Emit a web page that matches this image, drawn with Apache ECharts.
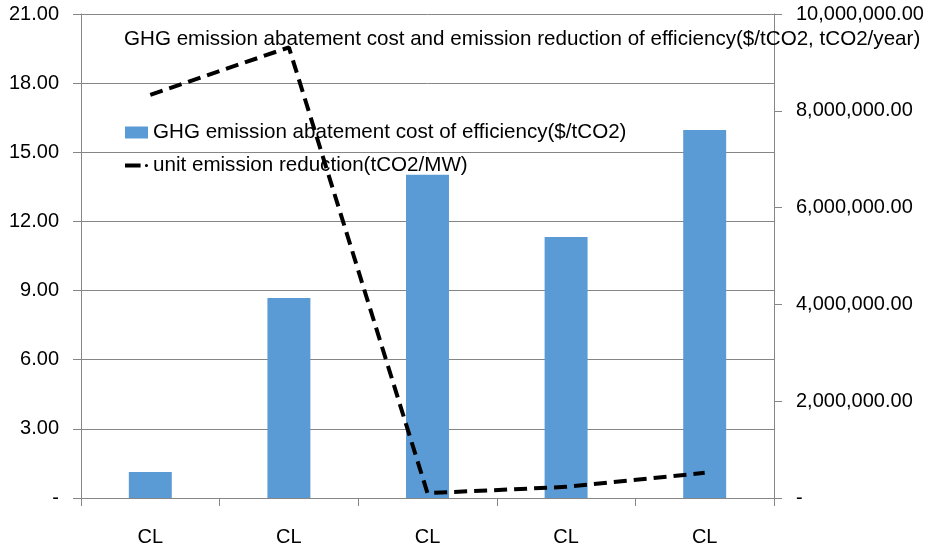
<!DOCTYPE html>
<html><head><meta charset="utf-8">
<script src="https://cdn.jsdelivr.net/npm/echarts@6/dist/echarts.min.js"></script>
<style>html,body{margin:0;padding:0;background:#fff}#c{width:935px;height:550px}</style>
</head><body><div id="c"></div>
<script>
const categories = ["CL","CL","CL","CL","CL"];
const costValues = [1.13, 8.68, 14.02, 11.32, 15.97];
const reductionValues = [8330000, 9310000, 100000, 230000, 520000];
const leftTicks = [0, 3, 6, 9, 12, 15, 18, 21];
const rightTicks = [0, 2000000, 4000000, 6000000, 8000000, 10000000];
const titleText = "GHG emission abatement cost and emission reduction of efficiency($/tCO2, tCO2/year)";
const barName = "GHG emission abatement cost of efficiency($/tCO2)";
const lineName = "unit emission reduction(tCO2/MW)";

const font = "Liberation Sans";
const chart = echarts.init(document.getElementById('c'));
const fmtL = v => v === 0 ? '-' : v.toFixed(2);
const fmtR = v => v === 0 ? '-' : v.toLocaleString('en-US', {minimumFractionDigits: 2, maximumFractionDigits: 2});
const lineIcon = 'path://M0,0L0,0M0,11L0,11M0,3.5L16,3.5L16,7.5L0,7.5ZM20.4,5.5A1.6,1.6,0,1,0,23.6,5.5A1.6,1.6,0,1,0,20.4,5.5Z';
chart.setOption({
  animation: false,
  backgroundColor: '#fff',
  textStyle: {fontFamily: font},
  title: {
    text: titleText, left: 119, top: 24,
    textStyle: {fontFamily: font, fontSize: 20.6, fontWeight: 'normal', color: '#000'}
  },
  legend: {
    orient: 'vertical', left: 120, top: 117, itemGap: 12,
    itemWidth: 23, itemHeight: 12,
    textStyle: {fontFamily: font, fontSize: 20.6, color: '#000'},
    data: [{name: barName, icon: 'rect'}, {name: lineName, icon: lineIcon, itemStyle: {color: '#000'}}]
  },
  grid: {left: 81, right: 161, top: 14, bottom: 52, containLabel: false},
  xAxis: {
    type: 'category', data: categories,
    axisLine: {lineStyle: {color: '#868686', width: 1}},
    axisTick: {show: true, length: 8, lineStyle: {color: '#868686'}},
    axisLabel: {fontFamily: font, fontSize: 20, color: '#000', margin: 29}
  },
  yAxis: [{
    type: 'value', min: 0, max: 21, interval: 3,
    axisLine: {show: true, lineStyle: {color: '#868686'}},
    axisTick: {show: true, length: 8, lineStyle: {color: '#868686'}},
    splitLine: {lineStyle: {color: '#868686', width: 1}},
    axisLabel: {fontFamily: font, fontSize: 20, color: '#000', margin: 22, formatter: fmtL}
  }, {
    type: 'value', min: 0, max: 10000000, interval: 2000000, position: 'right',
    axisLine: {show: true, lineStyle: {color: '#868686'}},
    axisTick: {show: true, length: 8, lineStyle: {color: '#868686'}},
    splitLine: {show: false},
    axisLabel: {fontFamily: font, fontSize: 20, color: '#000', margin: 22, formatter: fmtR}
  }],
  series: [{
    name: barName, type: 'bar', data: costValues, yAxisIndex: 0,
    barWidth: '31%', itemStyle: {color: '#5B9BD5'}
  }, {
    name: lineName, type: 'line', data: reductionValues, yAxisIndex: 1,
    symbol: 'none', z: 5,
    lineStyle: {color: '#000', width: 4, type: [13, 7]},
    itemStyle: {color: '#000'}
  }]
});
</script></body></html>
